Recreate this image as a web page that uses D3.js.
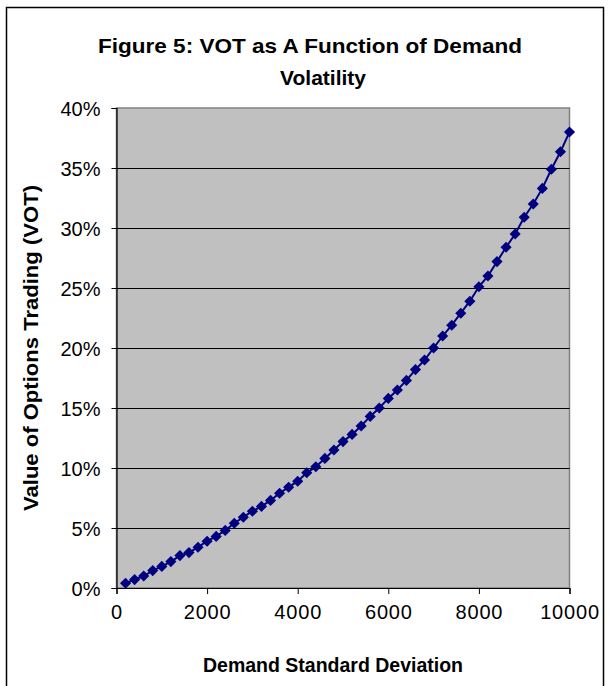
<!DOCTYPE html>
<html>
<head>
<meta charset="utf-8">
<script src="https://cdn.jsdelivr.net/npm/d3@7"></script>
<style>
  html, body { margin: 0; padding: 0; background: #fff; }
  svg { display: block; }
  text { font-family: "Liberation Sans", Arial, sans-serif; fill: #000; }
</style>
</head>
<body>
<svg id="chart" width="610" height="686"></svg>
<script>
// Demand standard deviation (x) and value of options trading in percent (y)
const demandSD = [200, 400, 600, 800, 1000, 1200, 1400, 1600, 1800, 2000,
  2200, 2400, 2600, 2800, 3000, 3200, 3400, 3600, 3800, 4000,
  4200, 4400, 4600, 4800, 5000, 5200, 5400, 5600, 5800, 6000,
  6200, 6400, 6600, 6800, 7000, 7200, 7400, 7600, 7800, 8000,
  8200, 8400, 8600, 8800, 9000, 9200, 9400, 9600, 9800, 10000];
const votPct = [0.4, 0.7, 1.0, 1.45, 1.8, 2.2, 2.7, 2.95, 3.4, 3.9,
  4.3, 4.8, 5.4, 5.9, 6.4, 6.8, 7.3, 7.9, 8.4, 8.9,
  9.6, 10.1, 10.8, 11.5, 12.2, 12.8, 13.5, 14.3, 15.0, 15.8,
  16.5, 17.3, 18.2, 19.0, 20.0, 21.0, 21.9, 22.9, 23.9, 25.1,
  26.0, 27.2, 28.4, 29.5, 30.9, 32.0, 33.3, 34.9, 36.35, 38.0];
const xTicks = [0, 2000, 4000, 6000, 8000, 10000];
const yTicks = [0, 5, 10, 15, 20, 25, 30, 35, 40];
const titleLines = ["Figure 5: VOT as A Function of Demand", "Volatility"];
const xTitle = "Demand Standard Deviation";
const yTitle = "Value of Options Trading (VOT)";

const svg = d3.select("#chart");
const plot = { left: 116.5, right: 569.5, top: 108, bottom: 588 };

const x = d3.scaleLinear().domain([0, 10000]).range([plot.left, plot.right]);
const y = d3.scaleLinear().domain([0, 40]).range([plot.bottom, plot.top]);

// chart frame
svg.append("rect")
  .attr("x", 6.5).attr("y", 7.5).attr("width", 597).attr("height", 690)
  .attr("fill", "#fff").attr("stroke", "#000").attr("stroke-width", 1.5);

// plot area
svg.append("rect")
  .attr("x", plot.left).attr("y", plot.top)
  .attr("width", plot.right - plot.left).attr("height", plot.bottom - plot.top)
  .attr("fill", "#c0c0c0").attr("stroke", "#808080").attr("stroke-width", 1.5);

// horizontal gridlines
svg.append("g").selectAll("line")
  .data(yTicks.filter(t => t > 0 && t < 40))
  .join("line")
  .attr("x1", plot.left).attr("x2", plot.right)
  .attr("y1", d => Math.round(y(d)) + 0.5).attr("y2", d => Math.round(y(d)) + 0.5)
  .attr("stroke", "#000").attr("stroke-width", 1);

// axes
const yAxis = d3.axisLeft(y).tickValues(yTicks).tickFormat(d => d + "%").tickSize(5).tickPadding(11);
const xAxis = d3.axisBottom(x).tickValues(xTicks).tickFormat(d3.format("d")).tickSize(6).tickPadding(11);

const gy = svg.append("g").attr("transform", `translate(${plot.left},0)`).call(yAxis);
const gx = svg.append("g").attr("transform", `translate(0,${plot.bottom})`).call(xAxis);
[gx, gy].forEach(g => {
  g.select(".domain").attr("stroke", "#000").attr("stroke-width", 1.2);
  g.selectAll(".tick line").attr("stroke", "#000");
  g.selectAll("text").attr("font-size", 20).attr("font-family", "'Liberation Sans', Arial, sans-serif").attr("fill", "#000");
});
gy.selectAll(".tick text").attr("dy", "0.36em");
gx.selectAll(".tick text").attr("letter-spacing", 0.8);

// series line and diamond markers
const pts = demandSD.map((d, i) => [d, votPct[i]]);
svg.append("path")
  .datum(pts)
  .attr("fill", "none").attr("stroke", "#000080").attr("stroke-width", 2)
  .attr("d", d3.line().x(d => x(d[0])).y(d => y(d[1])));

const diamond = d3.symbol().type(d3.symbolSquare).size(62);
svg.append("g").selectAll("path")
  .data(pts)
  .join("path")
  .attr("d", diamond)
  .attr("transform", d => `translate(${x(d[0])},${y(d[1])}) rotate(45)`)
  .attr("fill", "#000080");

// titles
const title = svg.append("g")
  .attr("font-size", 21).attr("font-weight", "bold").attr("text-anchor", "middle");
title.append("text")
  .attr("x", 310).attr("y", 53)
  .attr("textLength", 424).attr("lengthAdjust", "spacingAndGlyphs")
  .text(titleLines[0]);
title.append("text")
  .attr("x", 323).attr("y", 85)
  .text(titleLines[1]);

svg.append("text")
  .attr("x", 333).attr("y", 672)
  .attr("text-anchor", "middle")
  .attr("font-size", 20).attr("font-weight", "bold")
  .attr("textLength", 260).attr("lengthAdjust", "spacingAndGlyphs")
  .text(xTitle);

svg.append("text")
  .attr("transform", "translate(38,348) rotate(-90)")
  .attr("text-anchor", "middle")
  .attr("font-size", 20).attr("font-weight", "bold")
  .attr("textLength", 326).attr("lengthAdjust", "spacingAndGlyphs")
  .text(yTitle);
</script>
</body>
</html>
